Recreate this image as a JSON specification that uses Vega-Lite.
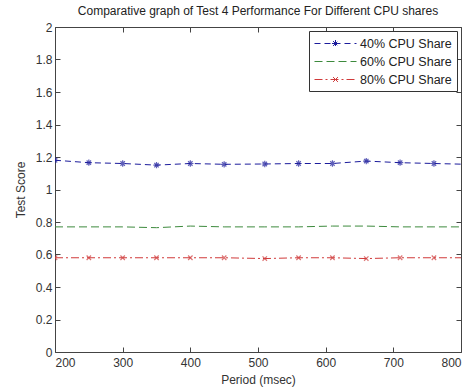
{
  "$schema": "https://vega.github.io/schema/vega-lite/v6.json",
  "width": 406,
  "height": 325,
  "autosize": {"type": "none"},
  "padding": {"left": 55, "top": 27, "right": 5, "bottom": 38},
  "background": "white",
  "title": {"text": "Comparative graph of Test 4 Performance For Different CPU shares", "fontSize": 12, "fontWeight": "normal", "font": "Liberation Sans", "color": "#222", "offset": 3, "anchor": "middle"},
  "config": {
    "view": {"stroke": null},
    "axis": {"grid": false, "font": "Liberation Sans", "labelFont": "Liberation Sans", "titleFont": "Liberation Sans", "labelFontSize": 12, "titleFontSize": 12, "titleFontWeight": "normal", "labelColor": "#333", "titleColor": "#333", "domainColor": "#444", "tickColor": "#444", "tickSize": -5}
  },
  "data": {"values": [
    {"period": 200, "score": 1.18, "series": "40% CPU Share"},
    {"period": 250, "score": 1.165, "series": "40% CPU Share"},
    {"period": 300, "score": 1.16, "series": "40% CPU Share"},
    {"period": 350, "score": 1.15, "series": "40% CPU Share"},
    {"period": 400, "score": 1.16, "series": "40% CPU Share"},
    {"period": 450, "score": 1.155, "series": "40% CPU Share"},
    {"period": 510, "score": 1.157, "series": "40% CPU Share"},
    {"period": 560, "score": 1.16, "series": "40% CPU Share"},
    {"period": 610, "score": 1.16, "series": "40% CPU Share"},
    {"period": 660, "score": 1.175, "series": "40% CPU Share"},
    {"period": 710, "score": 1.165, "series": "40% CPU Share"},
    {"period": 760, "score": 1.16, "series": "40% CPU Share"},
    {"period": 810, "score": 1.155, "series": "40% CPU Share"},
    {"period": 200, "score": 0.77, "series": "60% CPU Share"},
    {"period": 250, "score": 0.77, "series": "60% CPU Share"},
    {"period": 300, "score": 0.77, "series": "60% CPU Share"},
    {"period": 350, "score": 0.765, "series": "60% CPU Share"},
    {"period": 400, "score": 0.775, "series": "60% CPU Share"},
    {"period": 450, "score": 0.77, "series": "60% CPU Share"},
    {"period": 510, "score": 0.77, "series": "60% CPU Share"},
    {"period": 560, "score": 0.77, "series": "60% CPU Share"},
    {"period": 610, "score": 0.775, "series": "60% CPU Share"},
    {"period": 660, "score": 0.775, "series": "60% CPU Share"},
    {"period": 710, "score": 0.77, "series": "60% CPU Share"},
    {"period": 760, "score": 0.77, "series": "60% CPU Share"},
    {"period": 810, "score": 0.77, "series": "60% CPU Share"},
    {"period": 200, "score": 0.58, "series": "80% CPU Share"},
    {"period": 250, "score": 0.58, "series": "80% CPU Share"},
    {"period": 300, "score": 0.58, "series": "80% CPU Share"},
    {"period": 350, "score": 0.58, "series": "80% CPU Share"},
    {"period": 400, "score": 0.58, "series": "80% CPU Share"},
    {"period": 450, "score": 0.58, "series": "80% CPU Share"},
    {"period": 510, "score": 0.575, "series": "80% CPU Share"},
    {"period": 560, "score": 0.58, "series": "80% CPU Share"},
    {"period": 610, "score": 0.58, "series": "80% CPU Share"},
    {"period": 660, "score": 0.575, "series": "80% CPU Share"},
    {"period": 710, "score": 0.58, "series": "80% CPU Share"},
    {"period": 760, "score": 0.58, "series": "80% CPU Share"},
    {"period": 810, "score": 0.58, "series": "80% CPU Share"}
  ]},
  "resolve": {"axis": {"x": "independent", "y": "independent"}},
  "layer": [
    {
      "mark": {"type": "line", "clip": true, "strokeWidth": 1},
      "encoding": {
        "x": {"field": "period", "type": "quantitative", "scale": {"domain": [200, 800], "nice": false, "zero": false}, "axis": {"orient": "bottom", "values": [200, 300, 400, 500, 600, 700, 800], "title": "Period (msec)", "labelPadding": 10, "titlePadding": 6}},
        "y": {"field": "score", "type": "quantitative", "scale": {"domain": [0, 2], "nice": false}, "axis": {"orient": "left", "values": [0, 0.2, 0.4, 0.6, 0.8, 1, 1.2, 1.4, 1.6, 1.8, 2], "format": ".1~f", "title": "Test Score", "labelPadding": 8, "titlePadding": 8}},
        "color": {"field": "series", "type": "nominal", "scale": {"domain": ["40% CPU Share", "60% CPU Share", "80% CPU Share"], "range": ["#1c1c9c", "#3d8a3d", "#d03a3a"]}, "legend": {"orient": "top-right", "offset": 4, "title": null, "symbolType": "M-3,0L3,0", "symbolSize": 196, "symbolStrokeWidth": 1, "symbolOffset": 14, "labelOffset": 17, "labelFontSize": 12.5, "labelFont": "Liberation Sans", "labelColor": "#222", "strokeColor": "#333", "fillColor": "white", "padding": 5, "rowPadding": 4,
          "encode": {"symbols": {"update": {
            "stroke": {"scale": "color", "field": "value"},
            "strokeDash": {"scale": "strokeDash", "field": "value"},
            "shape": {"signal": "datum.value === '40% CPU Share' ? 'M-3,0L3,0M0,-0.5L0,0.5M-0.5,0L0.5,0M-0.35,-0.35L0.35,0.35M-0.35,0.35L0.35,-0.35' : datum.value === '80% CPU Share' ? 'M-3,0L3,0M-0.35,-0.35L0.35,0.35M-0.35,0.35L0.35,-0.35' : 'M-3,0L3,0'"}
          }}}}},
        "strokeDash": {"field": "series", "type": "nominal", "scale": {"domain": ["40% CPU Share", "60% CPU Share", "80% CPU Share"], "range": [[6, 4], [8, 4], [8, 3, 2, 3]]}, "legend": null}
      }
    },
    {
      "transform": [{"filter": "datum.series !== '60% CPU Share'"}],
      "mark": {"type": "point", "clip": true, "filled": false, "strokeWidth": 1.2, "size": 40},
      "encoding": {
        "x": {"field": "period", "type": "quantitative", "axis": null},
        "y": {"field": "score", "type": "quantitative", "axis": null},
        "color": {"field": "series", "type": "nominal", "legend": null},
        "shape": {"field": "series", "type": "nominal", "scale": {"domain": ["40% CPU Share", "80% CPU Share"], "range": ["M-1,0L1,0M0,-1L0,1M-0.7,-0.7L0.7,0.7M-0.7,0.7L0.7,-0.7", "M-0.7,-0.7L0.7,0.7M-0.7,0.7L0.7,-0.7"]}, "legend": null}
      }
    },
    {
      "mark": {"type": "line", "opacity": 0, "clip": true},
      "encoding": {
        "x": {"field": "period", "type": "quantitative", "axis": {"orient": "top", "values": [200, 300, 400, 500, 600, 700, 800], "labels": false, "title": null}},
        "y": {"field": "score", "type": "quantitative", "axis": {"orient": "right", "values": [0, 0.2, 0.4, 0.6, 0.8, 1, 1.2, 1.4, 1.6, 1.8, 2], "labels": false, "title": null}},
        "detail": {"field": "series"}
      }
    }
  ]
}
